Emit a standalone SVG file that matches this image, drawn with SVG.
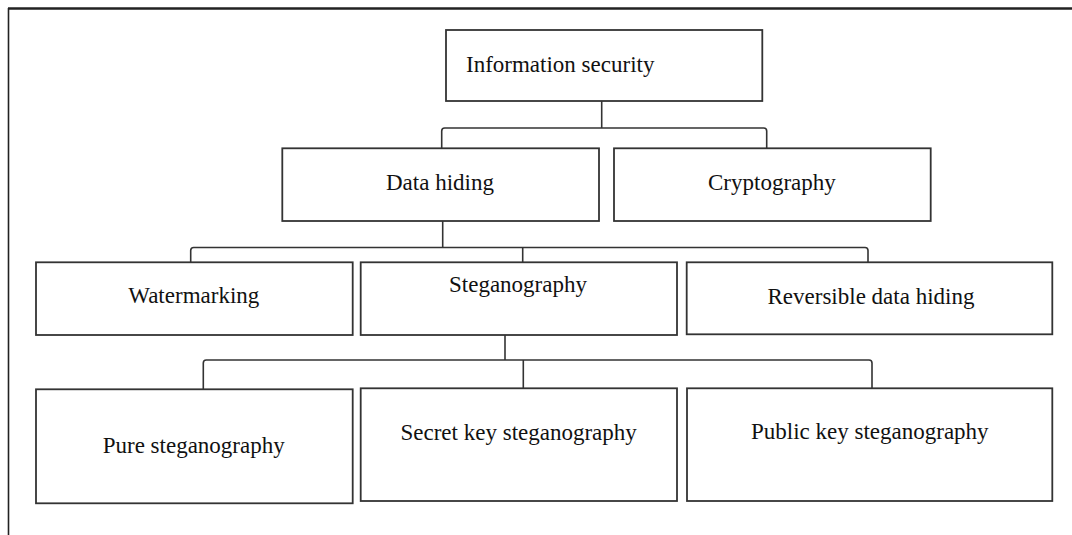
<svg xmlns="http://www.w3.org/2000/svg" width="1072" height="535" viewBox="0 0 1072 535">
  <style>
    .box { fill: #ffffff; stroke: #333333; stroke-width: 1.8; }
    .lbl { font-family: "Liberation Serif", "Times New Roman", serif; font-size: 23px; fill: #111111; }
    .wire { fill: none; stroke: #333333; stroke-width: 1.6; }
    .frame { stroke: #222222; fill: none; }
  </style>

  <rect width="1072" height="535" fill="#ffffff"/>

  <!-- page frame: top and left rules -->
  <line class="frame" x1="8" y1="8.5" x2="1072" y2="8.5" stroke-width="2.6"/>
  <line class="frame" x1="8.5" y1="8" x2="8.5" y2="535" stroke-width="1.6"/>

  <!-- connectors -->
  <g id="connectors">
    <!-- Information security -> Data hiding / Cryptography -->
    <path class="wire" d="M601.7 101 V128"/>
    <path class="wire" d="M441.7 148 V131 Q441.7 128 444.7 128 H763.7 Q766.7 128 766.7 131 V148"/>
    <!-- Data hiding -> Watermarking / Steganography / Reversible data hiding -->
    <path class="wire" d="M442.7 221 V247.5"/>
    <path class="wire" d="M190.7 262 V250.5 Q190.7 247.5 193.7 247.5 H865 Q868 247.5 868 250.5 V262"/>
    <path class="wire" d="M522.7 247.5 V262"/>
    <!-- Steganography -> Pure / Secret key / Public key -->
    <path class="wire" d="M505 335 V360"/>
    <path class="wire" d="M203.3 389 V363 Q203.3 360 206.3 360 H869 Q872 360 872 363 V388"/>
    <path class="wire" d="M523.3 360 V388"/>
  </g>

  <g id="information-security">
    <rect class="box" x="446" y="30" width="316.3" height="71"/>
    <text class="lbl" x="466" y="71.7">Information security</text>
  </g>

  <g id="data-hiding">
    <rect class="box" x="282.3" y="148.3" width="316.7" height="72.7"/>
    <text class="lbl" x="386" y="190">Data hiding</text>
  </g>

  <g id="cryptography">
    <rect class="box" x="614" y="148.3" width="316.7" height="72.7"/>
    <text class="lbl" x="708" y="190">Cryptography</text>
  </g>

  <g id="watermarking">
    <rect class="box" x="36" y="262.3" width="316.7" height="72.7"/>
    <text class="lbl" x="128.3" y="303.3">Watermarking</text>
  </g>

  <g id="steganography">
    <rect class="box" x="360.7" y="262.3" width="316.3" height="72.7"/>
    <text class="lbl" x="449" y="292">Steganography</text>
  </g>

  <g id="reversible-data-hiding">
    <rect class="box" x="686.7" y="262.3" width="365.6" height="72"/>
    <text class="lbl" x="767.5" y="304.3">Reversible data hiding</text>
  </g>

  <g id="pure-steganography">
    <rect class="box" x="36" y="389.3" width="316.7" height="114"/>
    <text class="lbl" x="102.7" y="453.3">Pure steganography</text>
  </g>

  <g id="secret-key-steganography">
    <rect class="box" x="360.7" y="388.3" width="316.3" height="112.7"/>
    <text class="lbl" x="400.5" y="440">Secret key steganography</text>
  </g>

  <g id="public-key-steganography">
    <rect class="box" x="687" y="388.3" width="365.3" height="112.7"/>
    <text class="lbl" x="751" y="439">Public key steganography</text>
  </g>
</svg>
